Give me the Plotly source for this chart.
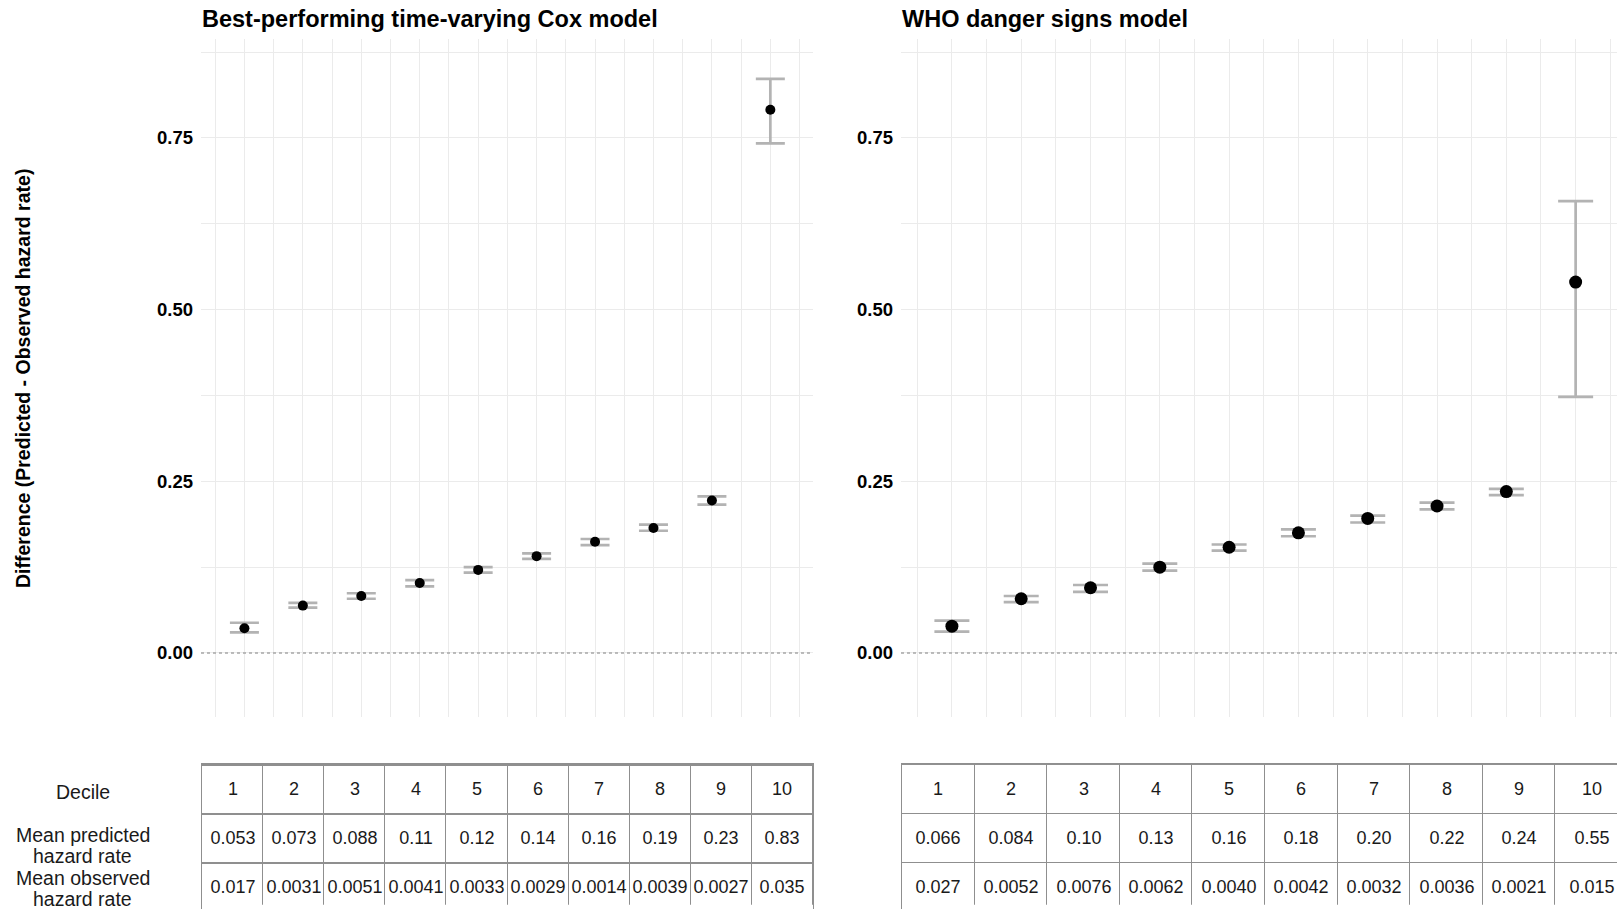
import plotly.graph_objects as go

# ---------------- data ----------------
deciles = [1, 2, 3, 4, 5, 6, 7, 8, 9, 10]
decile_labels = ["1", "2", "3", "4", "5", "6", "7", "8", "9", "10"]

panel_titles = ["Best-performing time-varying Cox model", "WHO danger signs model"]
y_title = "Difference (Predicted - Observed hazard rate)"
y_tickvals = [0.0, 0.25, 0.50, 0.75]
y_ticktext = ["0.00", "0.25", "0.50", "0.75"]

cox_diff = [0.036, 0.069, 0.083, 0.102, 0.121, 0.141, 0.162, 0.182, 0.222, 0.791]
cox_upper = [0.044, 0.073, 0.087, 0.106, 0.125, 0.145, 0.166, 0.187, 0.228, 0.836]
cox_lower = [0.030, 0.066, 0.079, 0.097, 0.117, 0.137, 0.157, 0.178, 0.216, 0.742]

who_diff = [0.039, 0.079, 0.095, 0.125, 0.154, 0.175, 0.196, 0.214, 0.235, 0.540]
who_upper = [0.047, 0.083, 0.099, 0.130, 0.158, 0.180, 0.200, 0.219, 0.239, 0.658]
who_lower = [0.031, 0.074, 0.089, 0.120, 0.149, 0.170, 0.190, 0.209, 0.230, 0.373]

cox_pred = ["0.053", "0.073", "0.088", "0.11", "0.12", "0.14", "0.16", "0.19", "0.23", "0.83"]
cox_obs = ["0.017", "0.0031", "0.0051", "0.0041", "0.0033", "0.0029", "0.0014", "0.0039", "0.0027", "0.035"]
who_pred = ["0.066", "0.084", "0.10", "0.13", "0.16", "0.18", "0.20", "0.22", "0.24", "0.55"]
who_obs = ["0.027", "0.0052", "0.0076", "0.0062", "0.0040", "0.0042", "0.0032", "0.0036", "0.0021", "0.015"]

row_labels = ["Decile", "Mean predicted\nhazard rate", "Mean observed\nhazard rate"]

# ---------------- styling / layout helpers ----------------
W, H = 1617, 909
FONT = "Liberation Sans, Arial, Helvetica, sans-serif"
GRID = "#ebebeb"
ERR = "#b3b3b3"
TBL = "#8f8f8f"
ROW_H = 49.0
TBL_TOP = 764


def fx(p):
    return p / W


def fy(p):
    return 1 - p / H


minor_x = [d - 0.5 for d in deciles] + [deciles[-1] + 0.5]
minor_y = [0.125, 0.375, 0.625, 0.875]

fig = go.Figure()


def add_panel(diff, upper, lower, xa, ya, msize, capw):
    fig.add_trace(go.Scatter(
        x=deciles, y=diff, mode="markers",
        marker=dict(color="black", size=msize),
        error_y=dict(type="data", symmetric=False,
                     array=[u - d for u, d in zip(upper, diff)],
                     arrayminus=[d - l for d, l in zip(diff, lower)],
                     color=ERR, thickness=2.7, width=capw),
        xaxis=xa, yaxis=ya, showlegend=False, hoverinfo="x+y",
    ))


add_panel(cox_diff, cox_upper, cox_lower, "x", "y", 10, 14.5)
add_panel(who_diff, who_upper, who_lower, "x2", "y2", 13, 17.5)


def add_table(rows, xa, ya, ygap):
    fig.add_trace(go.Heatmap(
        x=deciles, y=[0, 1, 2], z=[[0] * 10 for _ in rows],
        zmin=0, zmax=1, colorscale=[[0, "white"], [1, "white"]],
        showscale=False, xgap=1, ygap=ygap,
        text=rows, texttemplate="%{text}",
        textfont=dict(family=FONT, size=18, color="#1a1a1a"),
        hoverinfo="skip", xaxis=xa, yaxis=ya,
    ))


add_table([decile_labels, cox_pred, cox_obs], "x3", "y3", 2)
add_table([decile_labels, who_pred, who_obs], "x4", "y4", 1)

plot_ydom = [fy(717), fy(39)]
yrange = [-0.0932, 0.894]

xcommon = dict(tickvals=deciles, showticklabels=False, ticks="", showgrid=True,
               gridcolor=GRID, gridwidth=1.3, zeroline=False, showline=False,
               minor=dict(tickvals=minor_x, showgrid=True, gridcolor=GRID, gridwidth=1))
ycommon = dict(domain=plot_ydom, range=yrange, tickvals=y_tickvals, ticktext=y_ticktext,
               ticks="", showgrid=True, gridcolor=GRID, gridwidth=1.3, zeroline=False,
               showline=False, ticklabelstandoff=7,
               tickfont=dict(family=FONT, size=18.5, color="black", weight="bold"),
               minor=dict(tickvals=minor_y, showgrid=True, gridcolor=GRID, gridwidth=1))

tbl_ydom = [0, fy(TBL_TOP)]
tbl_yrange = [-0.52 + (H - TBL_TOP) / ROW_H, -0.52]
thid = dict(showgrid=False, zeroline=False, showticklabels=False, ticks="", fixedrange=True)

fig.update_layout(
    width=W, height=H, autosize=False,
    margin=dict(l=0, r=0, t=0, b=0, pad=0),
    paper_bgcolor="white", plot_bgcolor="white",
    font=dict(family=FONT, color="black"),
    showlegend=False,
    xaxis=dict(domain=[fx(201), fx(813)], range=[0.257, 10.73], anchor="y", **xcommon),
    yaxis=dict(anchor="x", **ycommon),
    xaxis2=dict(domain=[fx(901), 1], range=[0.2655, 10.597], anchor="y2", **xcommon),
    yaxis2=dict(anchor="x2", **ycommon),
    xaxis3=dict(domain=[fx(202), fx(813)], range=[0.5, 10.5], anchor="y3", side="top",
                showline=True, linecolor=TBL, linewidth=1, **thid),
    yaxis3=dict(domain=tbl_ydom, range=tbl_yrange, anchor="x3",
                showline=True, mirror=True, linecolor=TBL, linewidth=1, **thid),
    xaxis4=dict(domain=[fx(902), 1], range=[0.5, 0.5 + (W - 902) / 72.6], anchor="y4", side="top",
                showline=True, linecolor=TBL, linewidth=1, **thid),
    yaxis4=dict(domain=tbl_ydom, range=tbl_yrange, anchor="y4" if False else "x4",
                showline=True, linecolor=TBL, linewidth=1, **thid),
)

# gray backing behind table cells -> cell borders (kept off the clipped bottom edge)
for xr, yr in [("x3", "y3"), ("x4", "y4")]:
    fig.add_shape(type="rect", xref=f"{xr} domain", yref=f"{yr} domain",
                  x0=0, x1=1, y0=0.03, y1=1, fillcolor=TBL, line=dict(width=0), layer="below")

# dotted zero reference lines
for xr, yr in [("x", "y"), ("x2", "y2")]:
    fig.add_shape(type="line", xref=f"{xr} domain", yref=yr, x0=0, x1=1, y0=0, y1=0,
                  line=dict(color="#a8a8a8", width=1.3, dash="dot"))

# panel titles
for t, xp in zip(panel_titles, [200, 900]):
    fig.add_annotation(text=f"<b>{t}</b>", xref="paper", yref="paper", x=fx(xp), y=fy(19),
                       xanchor="left", yanchor="middle", showarrow=False,
                       font=dict(family=FONT, size=23.5, color="black"))

# y-axis title
fig.add_annotation(text=f"<b>{y_title}</b>", xref="paper", yref="paper", x=fx(23), y=fy(379),
                   xanchor="center", yanchor="middle", textangle=-90, showarrow=False,
                   font=dict(family=FONT, size=19.5, color="black"))

# table row labels
label_y = [792, 845.5, 888]
for lab, yc in zip(row_labels, label_y):
    lines = lab.split("\n")
    n = len(lines)
    for j, ln in enumerate(lines):
        fig.add_annotation(text=ln, xref="paper", yref="paper", x=fx(82.5),
                           y=fy(yc + (j - (n - 1) / 2) * 21), xanchor="center", yanchor="middle",
                           showarrow=False, font=dict(family=FONT, size=19.5, color="#1a1a1a"))

fig.write_html("out.html", config={"displayModeBar": False},
               post_script="document.body.style.margin='0';document.body.style.overflow='hidden';")
